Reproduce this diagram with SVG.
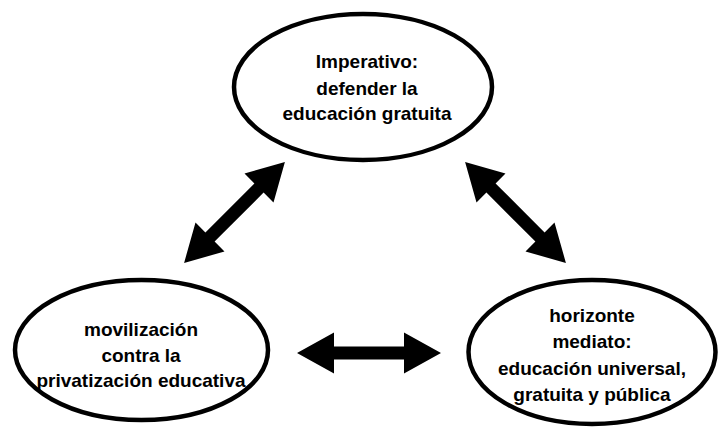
<svg xmlns="http://www.w3.org/2000/svg" xmlns:xlink="http://www.w3.org/1999/xlink" width="719" height="427" viewBox="0 0 719 427">
<style>
.node ellipse{fill:#fff;stroke:#000;stroke-width:4.5}
.node text{font-family:"Liberation Sans",Arial,sans-serif;font-weight:bold;font-size:19px;fill:#000;text-anchor:middle}
.arrow{fill:#000}
</style>
<defs>
<path id="dbl" d="M-72,0 L-35,-20.5 L-35,-6.5 L35,-6.5 L35,-20.5 L72,0 L35,20.5 L35,6.5 L-35,6.5 L-35,20.5 Z"/>
</defs>
<rect width="719" height="427" fill="#fff"/>
<g id="connectors" class="arrow">
<use xlink:href="#dbl" transform="translate(234.5,212.5) rotate(-45) scale(0.99,1)"/>
<use xlink:href="#dbl" transform="translate(515.5,212.5) rotate(45) scale(0.99,1)"/>
<use xlink:href="#dbl" transform="translate(369,353)"/>
</g>
<g id="node-top" class="node">
<ellipse cx="363" cy="87" rx="129" ry="73"/>
<text x="367" y="68">Imperativo:</text>
<text x="367" y="95">defender la</text>
<text x="367" y="120">educación gratuita</text>
</g>
<g id="node-left" class="node">
<ellipse cx="141.5" cy="350" rx="126.5" ry="70"/>
<text x="141" y="336">movilización</text>
<text x="141" y="362">contra la</text>
<text x="141" y="387">privatización educativa</text>
</g>
<g id="node-right" class="node">
<ellipse cx="592" cy="352" rx="123.5" ry="72"/>
<text x="592" y="322">horizonte</text>
<text x="592" y="348">mediato:</text>
<text x="592" y="375">educación universal,</text>
<text x="592" y="401">gratuita y pública</text>
</g>
</svg>
